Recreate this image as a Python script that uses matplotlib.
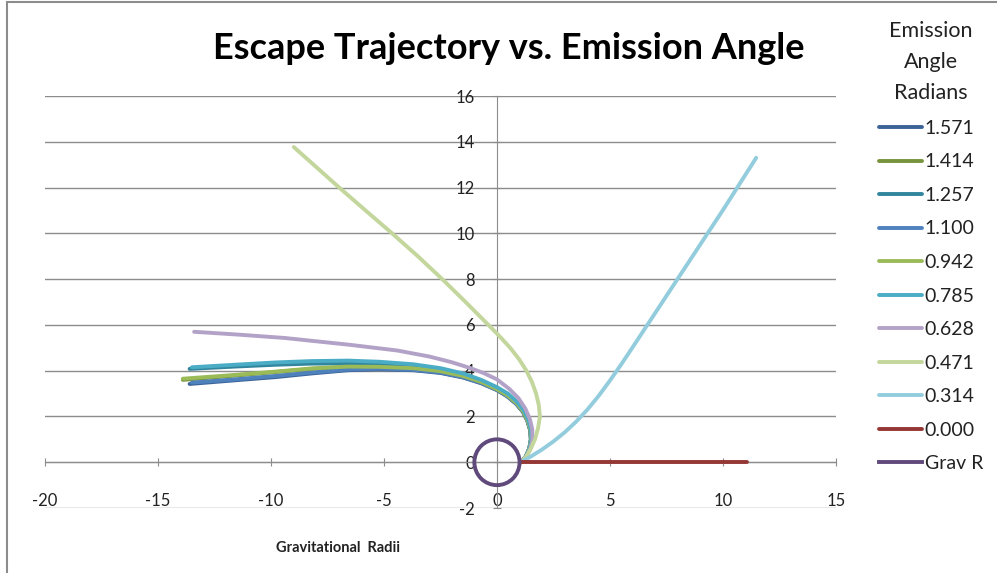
import matplotlib.pyplot as plt
from matplotlib.lines import Line2D
from matplotlib.patches import Circle, Rectangle

plt.rcParams['font.family'] = ['Lato', 'DejaVu Sans']
plt.rcParams['axes.unicode_minus'] = False

# Trajectories (gravitational radii)
labels = ['1.571', '1.414', '1.257', '1.100', '0.942', '0.785',
          '0.628', '0.471', '0.314', '0.000']
colors = ['#3B6397', '#77933C', '#31859C', '#4F81BD', '#9BBB59', '#4BACC6',
          '#B3A2C7', '#C3D69B', '#93CDDD', '#953735']

x_1571 = [1.05, 1.28, 1.43, 1.50, 1.47, 1.35, 1.15, 0.85, 0.45, 0.00, -0.70, -1.50, -2.50, -3.70, -5.20, -6.60, -8.20, -9.80, -11.60, -13.60]
y_1571 = [0.00, 0.25, 0.60, 1.00, 1.40, 1.80, 2.20, 2.55, 2.88, 3.15, 3.45, 3.70, 3.90, 4.02, 4.06, 4.02, 3.88, 3.72, 3.58, 3.42]

x_1414 = [1.05, 1.28, 1.43, 1.50, 1.47, 1.35, 1.15, 0.85, 0.45, 0.00, -0.70, -1.50, -2.50, -3.70, -5.20, -6.60, -8.20, -9.80, -11.80, -13.90]
y_1414 = [0.00, 0.25, 0.60, 1.00, 1.41, 1.81, 2.21, 2.57, 2.90, 3.17, 3.48, 3.74, 3.95, 4.08, 4.15, 4.16, 4.08, 3.94, 3.77, 3.60]

x_1257 = [1.05, 1.29, 1.45, 1.52, 1.49, 1.37, 1.17, 0.87, 0.47, 0.00, -0.70, -1.50, -2.50, -3.70, -5.20, -6.60, -8.20, -9.80, -11.60, -13.60]
y_1257 = [0.00, 0.26, 0.62, 1.02, 1.43, 1.84, 2.25, 2.61, 2.95, 3.22, 3.54, 3.80, 4.02, 4.18, 4.28, 4.32, 4.31, 4.26, 4.18, 4.08]

x_1100 = [1.05, 1.28, 1.43, 1.50, 1.47, 1.35, 1.15, 0.85, 0.45, 0.00, -0.70, -1.50, -2.50, -3.70, -5.20, -6.60, -8.20, -9.80, -11.60, -13.50]
y_1100 = [0.00, 0.25, 0.60, 1.00, 1.41, 1.81, 2.21, 2.56, 2.89, 3.16, 3.47, 3.72, 3.92, 4.04, 4.09, 4.05, 3.92, 3.77, 3.62, 3.48]

x_0942 = [1.05, 1.29, 1.44, 1.51, 1.48, 1.36, 1.16, 0.86, 0.46, 0.00, -0.70, -1.50, -2.50, -3.70, -5.20, -6.60, -8.20, -9.80, -11.80, -13.90]
y_0942 = [0.00, 0.26, 0.61, 1.01, 1.42, 1.82, 2.23, 2.59, 2.92, 3.19, 3.51, 3.77, 3.98, 4.11, 4.17, 4.18, 4.10, 3.96, 3.80, 3.65]

x_0785 = [1.05, 1.30, 1.46, 1.53, 1.50, 1.38, 1.18, 0.88, 0.48, 0.00, -0.70, -1.50, -2.50, -3.70, -5.20, -6.60, -8.20, -9.80, -11.60, -13.50]
y_0785 = [0.00, 0.27, 0.63, 1.04, 1.45, 1.87, 2.28, 2.65, 3.00, 3.28, 3.60, 3.88, 4.11, 4.28, 4.39, 4.44, 4.42, 4.36, 4.26, 4.15]

x_0628 = [1.05, 1.30, 1.48, 1.57, 1.56, 1.45, 1.25, 0.95, 0.55, 0.00, -0.60, -1.20, -2.00, -3.00, -4.40, -6.50, -9.40, -11.50, -13.40]
y_0628 = [0.00, 0.25, 0.60, 1.00, 1.45, 1.90, 2.35, 2.80, 3.20, 3.62, 3.90, 4.12, 4.37, 4.62, 4.88, 5.13, 5.43, 5.58, 5.70]

x_0471 = [1.05, 1.30, 1.50, 1.68, 1.82, 1.90, 1.85, 1.73, 1.55, 1.30, 0.98, 0.60, 0.25, 0.00, -0.53, -1.45, -2.38, -3.50, -4.64, -5.85, -7.06, -8.00, -8.99]
y_0471 = [0.00, 0.25, 0.60, 1.00, 1.50, 2.00, 2.50, 3.00, 3.50, 4.00, 4.50, 4.98, 5.36, 5.62, 6.15, 7.06, 7.96, 9.00, 10.00, 11.03, 12.07, 12.90, 13.77]

x_0314 = [1.05, 1.50, 2.00, 2.50, 3.00, 3.50, 4.00, 4.50, 5.00, 5.50, 6.00, 7.00, 8.00, 9.00, 10.00, 11.47]
y_0314 = [0.00, 0.25, 0.56, 0.91, 1.31, 1.77, 2.30, 2.90, 3.57, 4.28, 5.02, 6.52, 8.02, 9.52, 11.02, 13.30]

x_0000 = [1.05, 11.05]
y_0000 = [0.00, 0.00]

grav_r = 1.0
grav_color = '#604A7B'

xs = [x_1571, x_1414, x_1257, x_1100, x_0942, x_0785, x_0628, x_0471, x_0314, x_0000]
ys = [y_1571, y_1414, y_1257, y_1100, y_0942, y_0785, y_0628, y_0471, y_0314, y_0000]

fig = plt.figure(figsize=(9.97, 5.73), dpi=100)
ax = fig.add_axes([0.0451, 0.1134, 0.7934, 0.7190])

handles = []
for x, y, c, lab in zip(xs, ys, colors, labels):
    ln, = ax.plot(x, y, color=c, lw=2.8, solid_capstyle='round',
                  solid_joinstyle='round', label=lab, zorder=3)
    handles.append(ln)

ax.add_patch(Circle((0, 0), grav_r, fill=False, ec=grav_color, lw=2.8, zorder=4))
handles.append(Line2D([], [], color=grav_color, lw=2.8))

ax.set_xlim(-20, 15)
ax.set_ylim(-2, 16)
ax.set_xticks(range(-20, 16, 5))
ax.set_yticks(range(-2, 17, 2))
ax.yaxis.grid(True, color='#8C8C8C', lw=1)
ax.set_axisbelow(True)

for s in ['top', 'right']:
    ax.spines[s].set_visible(False)
ax.spines['left'].set_position(('data', 0))
ax.spines['bottom'].set_position(('data', 0))
ax.spines['left'].set_color('#8C8C8C')
ax.spines['bottom'].set_color('#8C8C8C')
ax.tick_params(axis='both', direction='inout', length=6, color='#8C8C8C',
               labelsize=12, labelcolor='#222222')
ax.tick_params(axis='x', pad=19)
ax.tick_params(axis='y', pad=13)

fig.text(0.51, 0.916, 'Escape Trajectory vs. Emission Angle', ha='center', va='center',
         fontsize=26, fontweight='bold')
fig.text(0.339, 0.043, 'Gravitational  Radii', ha='center', va='center',
         fontsize=10.5, fontweight='bold', color='#222222')

leg = fig.legend(handles, labels + ['Grav R'], loc='upper center',
                 bbox_to_anchor=(0.934, 0.994), frameon=False, fontsize=14,
                 title='Emission\nAngle\nRadians', title_fontsize=15.5,
                 handlelength=2.2, handletextpad=0.15, labelspacing=0.85)
leg.get_title().set_linespacing(1.7)
leg.get_title().set_multialignment('center')
leg.get_title().set_color('#222222')
for t in leg.get_texts():
    t.set_color('#222222')

# chart border
fig.patches.append(Rectangle((0.007, -0.01), 1.1, 1.007, transform=fig.transFigure,
                             fill=False, ec='#8C8C8C', lw=1.5))

fig.savefig('out.png', dpi=100)
